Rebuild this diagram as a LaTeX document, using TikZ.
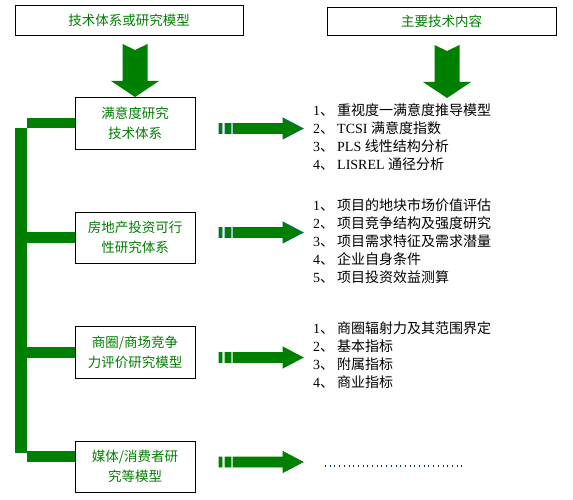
\documentclass[tikz,border=0pt]{standalone}
\usepackage{fontspec}
\setmainfont{Liberation Serif}
\newfontfamily\cjk{Noto Sans CJK SC}
\usetikzlibrary{calc,positioning}
\definecolor{arrgreen}{RGB}{0,128,0}
\definecolor{arrline}{RGB}{0,100,110}
\definecolor{dotblue}{RGB}{0,51,102}
\newcommand{\li}[2]{\makebox[24pt][l]{#1{\cjk 、}}#2}
\tikzset{
  box/.style    = {draw, line width=0.8pt, fill=white, text=arrgreen, align=center,
                   font=\cjk\fontsize{13.5}{20}\selectfont, inner sep=0pt},
  listbox/.style= {align=left, inner sep=0pt, font=\fontsize{14}{18}\selectfont},
  bar/.style    = {fill=arrgreen},
  dotline/.style= {dotblue, line width=1.3pt, dash pattern=on 1pt off 3.7pt},
  pics/downarr/.style = {code={
    \fill[arrgreen] (-12.5,0) -- (0,6) -- (12.5,0) -- (12.5,37) -- (24,37)
      -- (0,53) -- (-24,37) -- (-12.5,37) -- cycle;}},
  pics/rarr/.style = {code={
    \filldraw[fill=arrgreen, draw=#1, line width=0.7pt]
      (0,-5) rectangle (3,5) (6,-5) rectangle (12,5)
      (14,-5) -- (64,-5) -- (64,-10.5) -- (84,0) -- (64,10.5) -- (64,5) -- (14,5) -- cycle;}},
}
\begin{document}
\begin{tikzpicture}[x=1pt,y=-1pt]
  \useasboundingbox (0,0) rectangle (573,500);
  % headings
  \node[box, minimum width=228pt, minimum height=30pt] (hl) at (129,20) {技术体系或研究模型};
  \node[box, minimum width=229pt, minimum height=28pt] (hr) at (441.5,21) {主要技术内容};
  \pic at (135,44) {downarr};
  \pic at (447,45) {downarr};
  % the four studies
  \node[box, minimum width=120pt, minimum height=52pt] (b1) at (135,123) {满意度研究\\技术体系};
  \node[box, minimum width=120pt, minimum height=51pt] (b2) at (135,237.5) {房地产投资可行\\性研究体系};
  \node[box, minimum width=120pt, minimum height=52pt] (b3) at (135,352) {商圈/商场竞争\\力评价研究模型};
  \node[box, minimum width=120pt, minimum height=51pt] (b4) at (135,466.5) {媒体/消费者研\\究等模型};
  % green bracket
  \fill[bar] (15,128) rectangle (27,453);
  \fill[bar] ($(b1.west)+(0,-5)$) rectangle ($(b1.west)+(-48,5)$);
  \fill[bar] ($(b2.west)+(0,-5.5)$) rectangle ($(b2.west)+(-48,5.5)$);
  \fill[bar] ($(b3.west)+(0,-5)$) rectangle ($(b3.west)+(-48,6)$);
  \fill[bar] ($(b4.west)+(0,-15.5)$) rectangle ($(b4.west)+(-48,-4.5)$);
  % arrows to the contents
  \pic at (219,128.5) {rarr=arrline};
  \pic at (219,232.5) {rarr=arrline};
  \pic at (219,357.5) {rarr=arrgreen};
  \pic at (219,462) {rarr=arrgreen};
  % contents
  \node[listbox, anchor=west] (l1) at (313,137.5) {%
    \li{1}{\cjk 重视度一满意度推导模型}\\
    \li{2}{TCSI {\cjk 满意度指数}}\\
    \li{3}{PLS {\cjk 线性结构分析}}\\
    \li{4}{LISREL {\cjk 通径分析}}};
  \node[listbox, anchor=west] (l2) at (313,241.5) {%
    \li{1}{\cjk 项目的地块市场价值评估}\\
    \li{2}{\cjk 项目竞争结构及强度研究}\\
    \li{3}{\cjk 项目需求特征及需求潜量}\\
    \li{4}{\cjk 企业自身条件}\\
    \li{5}{\cjk 项目投资效益测算}};
  \node[listbox, anchor=west] (l3) at (313,355.5) {%
    \li{1}{\cjk 商圈辐射力及其范围界定}\\
    \li{2}{\cjk 基本指标}\\
    \li{3}{\cjk 附属指标}\\
    \li{4}{\cjk 商业指标}};
  \coordinate (d1) at (325,466);
  \coordinate (d2) at (462,466);
  \draw[dotline] (d1) -- (d2);
\end{tikzpicture}
\end{document}
